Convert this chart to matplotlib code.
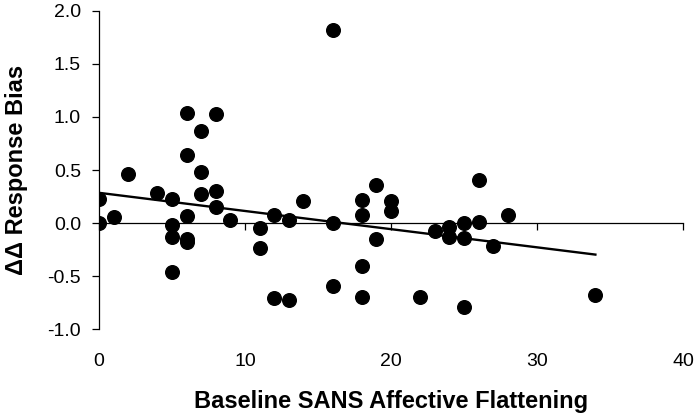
import numpy as np
import matplotlib.pyplot as plt

plt.rcParams['font.family'] = ['Liberation Sans', 'DejaVu Sans']

# Baseline SANS affective flattening score vs change in response bias
sans_score = [0, 0, 1, 2, 4, 5, 5, 5, 5, 6, 6, 6, 6, 6, 7, 7, 7, 8, 8, 8, 9,
              11, 11, 12, 12, 13, 13, 14, 16, 16, 16, 18, 18, 18, 18, 19, 19,
              20, 20, 22, 23, 24, 24, 25, 25, 25, 26, 26, 27, 28, 34]
delta_bias = [0.23, 0.00, 0.06, 0.46, 0.28, 0.23, -0.02, -0.13, -0.46,
              1.04, 0.64, 0.07, -0.15, -0.18, 0.87, 0.48, 0.27, 1.03, 0.30,
              0.15, 0.03, -0.05, -0.24, 0.08, -0.71, 0.03, -0.73, 0.21,
              1.82, 0.00, -0.59, 0.22, 0.08, -0.41, -0.70, 0.36, -0.15,
              0.21, 0.11, -0.70, -0.08, -0.04, -0.13, 0.00, -0.14, -0.79,
              0.41, 0.01, -0.22, 0.08, -0.68]

x_ticks = [0, 10, 20, 30, 40]
y_ticks = [-1.0, -0.5, 0.0, 0.5, 1.0, 1.5, 2.0]

fig = plt.figure(figsize=(6.99, 4.18), dpi=100)
ax = fig.add_axes([0.1416, 0.2129, 0.8355, 0.7608])

ax.plot(sans_score, delta_bias, 'o', color='black', markersize=9.8)

# least squares trend line over the observed range
slope, intercept = np.polyfit(sans_score, delta_bias, 1)
xs = np.array([min(sans_score), max(sans_score)])
ax.plot(xs, slope * xs + intercept, color='black', linewidth=1.7)

ax.set_xlim(0, 40)
ax.set_ylim(-1.0, 2.0)
ax.set_yticks(y_ticks)
ax.set_yticklabels([f"{v:.1f}" for v in y_ticks], fontsize=14)

# horizontal axis crosses at zero, labels sit at the bottom
ax.spines['bottom'].set_position(('data', 0))
ax.spines['top'].set_visible(False)
ax.spines['right'].set_visible(False)
for s in ['bottom', 'left']:
    ax.spines[s].set_linewidth(0.9)
ax.set_xticks(x_ticks)
ax.tick_params(axis='x', direction='out', length=5, width=0.9, labelbottom=False)
ax.tick_params(axis='y', direction='out', length=5, width=0.9, pad=8)

sec = ax.secondary_xaxis(0)
sec.set_xticks(x_ticks)
sec.set_xticklabels([str(v) for v in x_ticks], fontsize=14)
sec.tick_params(length=0, pad=17)
sec.spines['bottom'].set_visible(False)
sec.set_xlabel("Baseline SANS Affective Flattening", fontsize=17,
               fontweight='bold', labelpad=15)

ax.set_ylabel("ΔΔ Response Bias", fontsize=17, fontweight='bold', labelpad=14)

fig.savefig("out.png", dpi=100)
